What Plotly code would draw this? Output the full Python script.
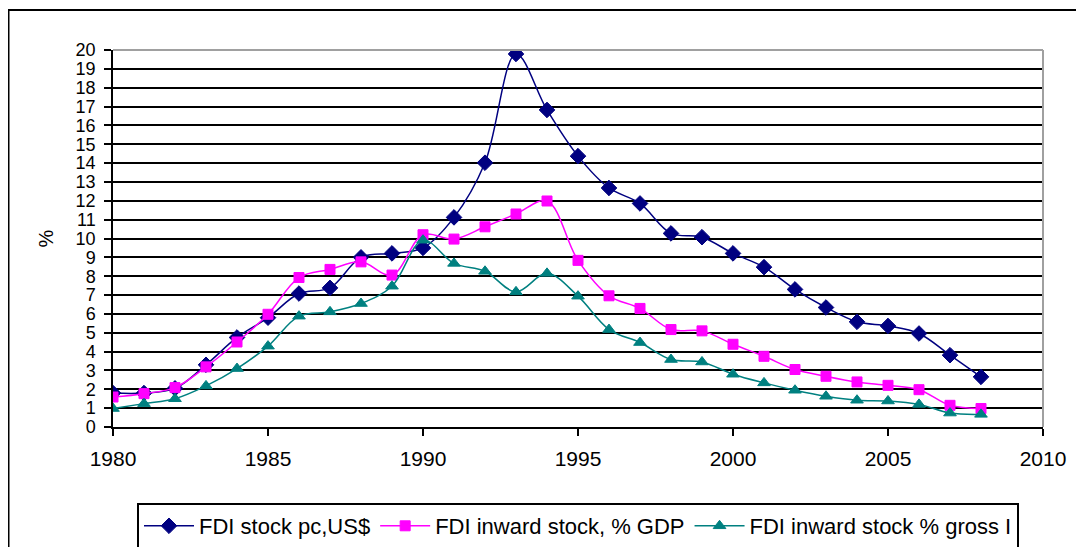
import plotly.graph_objects as go

years = list(range(1980, 2009))
fdi_stock_pc = [1.8, 1.8, 2.05, 3.3, 4.75, 5.8, 7.08, 7.38, 9.0, 9.21, 9.5, 11.12, 14.02, 19.79, 16.82,
                14.37, 12.68, 11.86, 10.27, 10.07, 9.21, 8.48, 7.3, 6.34, 5.58, 5.36, 4.96, 3.81, 2.66]
fdi_inward_gdp = [1.59, 1.77, 2.09, 3.19, 4.51, 5.98, 7.93, 8.36, 8.76, 8.06, 10.2, 9.97, 10.62, 11.3, 11.99,
                  8.84, 6.96, 6.29, 5.17, 5.1, 4.39, 3.75, 3.05, 2.69, 2.39, 2.21, 1.98, 1.15, 0.98]
fdi_inward_gross = [0.98, 1.24, 1.5, 2.18, 3.1, 4.29, 5.88, 6.11, 6.55, 7.47, 9.91, 8.68, 8.26, 7.17, 8.15,
                    6.94, 5.17, 4.48, 3.58, 3.45, 2.8, 2.34, 1.95, 1.63, 1.42, 1.38, 1.2, 0.74, 0.67]

series_names = ["FDI stock pc,US$", "FDI inward stock, % GDP", "FDI inward stock % gross I"]
series_colors = ["#000080", "#FF00FF", "#008080"]
series_symbols = ["diamond", "square", "triangle-up"]
series_sizes = [12, 10, 11]
series_values = [fdi_stock_pc, fdi_inward_gdp, fdi_inward_gross]

y_ticks = list(range(0, 21))
x_ticks = [1980, 1985, 1990, 1995, 2000, 2005, 2010]

FONT = "Liberation Sans, Arial, sans-serif"

fig = go.Figure()
for name, vals, col, sym, sz in zip(series_names, series_values, series_colors, series_symbols, series_sizes):
    fig.add_trace(go.Scatter(
        x=years, y=vals, name=name, mode="lines+markers",
        line=dict(color=col, width=1.5, shape="spline", smoothing=1.0),
        marker=dict(symbol=sym, size=sz, color=col, line=dict(color=col, width=1)),
    ))

# the page body adds an 8px margin, so the figure is 8px smaller and all positions shift by 8
OFF = 8
W, H = 1084 - OFF, 547 - OFF
L, T = 113 - OFF, 50 - OFF
pw, ph = 930, 377
R = W - L - pw
B = H - T - ph


def px(xp):
    return (xp - OFF - L) / pw


def py(yp):
    return (H - B - (yp - OFF)) / ph


fig.update_layout(
    width=W, height=H,
    margin=dict(l=L, r=R, t=T, b=B),
    paper_bgcolor="white", plot_bgcolor="white",
    font=dict(family=FONT, color="black", size=21),
    showlegend=True,
    legend=dict(
        orientation="h",
        xref="container", yref="container",
        x=(137 - OFF) / W, y=1 - (503 - OFF) / H,
        xanchor="left", yanchor="top",
        bordercolor="black", borderwidth=2, font=dict(size=22, family=FONT),
        itemwidth=50, tracegroupgap=0,
    ),
    xaxis=dict(
        range=[1980, 2010], tickmode="array", tickvals=x_ticks,
        showgrid=False, zeroline=False,
        showline=True, linecolor="black", linewidth=1.5,
        ticks="outside", ticklen=7, tickcolor="black", tickwidth=1.5,
        tickfont=dict(size=21, family=FONT), ticklabelstandoff=5,
    ),
    yaxis=dict(
        range=[0, 20], tickmode="array", tickvals=y_ticks,
        showgrid=True, gridcolor="black", gridwidth=1.5, zeroline=False,
        showline=True, linecolor="black", linewidth=1.5,
        ticks="outside", ticklen=7, tickcolor="black", tickwidth=1.5,
        tickfont=dict(size=18, family=FONT), ticklabelstandoff=5,
        title=dict(text="%", font=dict(size=20, family=FONT), standoff=17),
    ),
    shapes=[
        dict(type="line", xref="paper", yref="paper", x0=0, x1=1, y0=1, y1=1,
             line=dict(color="#a0a0a0", width=2)),
        dict(type="line", xref="paper", yref="paper", x0=1, x1=1, y0=0, y1=1,
             line=dict(color="#a0a0a0", width=2)),
        dict(type="rect", xref="paper", yref="paper", x0=px(8.5), x1=px(1100), y0=py(560), y1=py(10),
             line=dict(color="black", width=2), fillcolor="rgba(0,0,0,0)", layer="below"),
    ],
)

fig.write_html("out.html")
